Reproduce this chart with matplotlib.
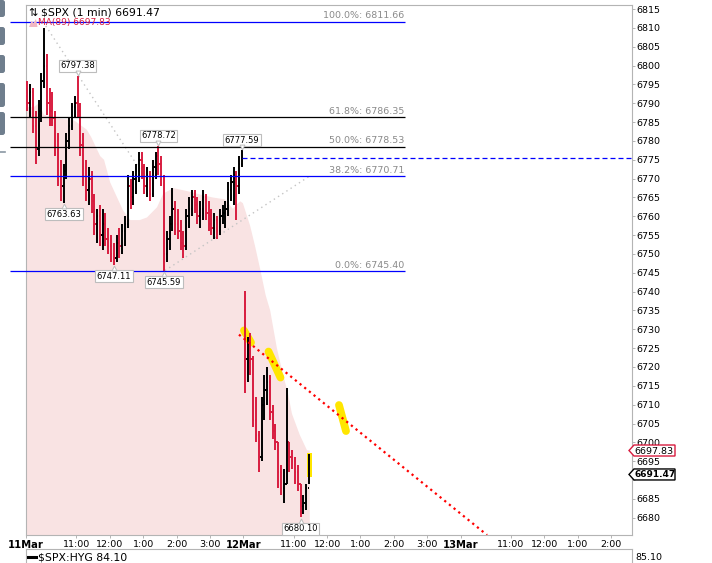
import matplotlib
matplotlib.use("Agg")
import matplotlib.pyplot as plt
from matplotlib.collections import LineCollection
from matplotlib.patches import Polygon, Rectangle, FancyBboxPatch
from matplotlib.lines import Line2D
from matplotlib.transforms import IdentityTransform, offset_copy

plt.rcParams['font.family'] = ['DejaVu Sans']

# ---------------- data (5-minute bars) ----------------
BAR_MIN = 5
DAY_MIN = 390

d1_open0 = 6792
d1_high = [6796, 6795, 6794, 6788, 6791, 6798, 6810, 6803, 6794, 6793,
           6788, 6782, 6775, 6774, 6782, 6786, 6790, 6792, 6797.38, 6790,
           6782, 6775, 6773, 6772, 6766, 6762, 6763, 6762, 6761, 6757,
           6755, 6753, 6755, 6757, 6758, 6760, 6771, 6770, 6772, 6774,
           6777, 6777, 6774, 6773, 6772, 6775, 6777, 6778.72, 6776, 6771,
           6756, 6760, 6767.5, 6764, 6762, 6759, 6756, 6762, 6765, 6767,
           6767, 6765, 6764, 6767, 6766, 6764, 6762, 6761, 6760, 6762,
           6763, 6764, 6769, 6771, 6773, 6772, 6776, 6777.59]
d1_low = [6788, 6786, 6782, 6774, 6776, 6785, 6794, 6787, 6784, 6784,
          6776, 6768, 6764, 6763.63, 6770, 6778, 6783, 6786, 6786, 6776,
          6768, 6764, 6763, 6761, 6755, 6753, 6752, 6751, 6752, 6750,
          6748, 6747.11, 6748, 6749, 6750, 6752, 6757, 6762, 6763, 6766,
          6769, 6770, 6766, 6765, 6764, 6765, 6770, 6771, 6768, 6745.59,
          6748, 6751, 6756, 6755, 6754, 6751, 6749, 6751, 6757, 6760,
          6761, 6758, 6757, 6759, 6759, 6756, 6755, 6754, 6754, 6755,
          6758, 6757, 6760, 6764, 6763, 6759, 6766, 6773]
d1_close = [6790, 6793, 6784, 6778, 6788, 6796, 6800, 6790, 6788, 6786,
            6780, 6770, 6768, 6772, 6780, 6784, 6789, 6790, 6788, 6779,
            6770, 6767, 6770, 6764, 6758, 6760, 6755, 6758, 6754, 6752,
            6750, 6749, 6753, 6752, 6756, 6758, 6768, 6765, 6770, 6772,
            6775, 6773, 6768, 6771, 6766, 6773, 6776, 6774, 6770, 6750,
            6754, 6758, 6762, 6758, 6756, 6753, 6752, 6760, 6762, 6765,
            6763, 6760, 6762, 6765, 6761, 6758, 6757, 6759, 6756, 6760,
            6761, 6762, 6767, 6769, 6771, 6768, 6774, 6775.5]

d2_open0 = 6735
d2_high = [6740.3, 6728, 6729, 6723, 6712, 6703, 6712, 6718, 6720, 6718,
           6710, 6705, 6700, 6694, 6693, 6714.5, 6700, 6698, 6696, 6694,
           6689, 6686, 6689, 6697]
d2_low = [6713, 6716, 6718, 6704, 6700, 6692, 6695, 6706, 6710, 6706,
          6701, 6698, 6688, 6686, 6684, 6689, 6692, 6693, 6689, 6687,
          6680.10, 6681, 6682, 6689]
d2_close = [6722, 6726, 6722, 6706, 6702, 6696, 6710, 6714, 6716, 6708,
            6703, 6700, 6692, 6688, 6689, 6700, 6696, 6695, 6692, 6689,
            6683, 6684, 6688, 6691.47]

# MA(89) boundary (minutes since 11Mar open, price)
ma_t = [0, 14, 23, 32, 56, 86, 109, 117, 133, 140, 151, 174, 187, 204, 217,
        235, 246, 264, 289, 312, 335, 357, 371, 384, 389, 402, 411, 420, 430,
        438, 450, 461, 470, 477, 491, 504, 509]
ma_v = [6789, 6789, 6790, 6787, 6786, 6785.5, 6783, 6781, 6776, 6775, 6769,
        6761.6, 6759, 6759, 6759.7, 6762.4, 6766, 6767.5, 6766.7, 6765.8,
        6765, 6764.5, 6762, 6764, 6763.5, 6757.5, 6752, 6746, 6739, 6735,
        6725, 6718, 6713, 6707.6, 6702, 6697.9, 6697.83]

fib_pct = ['100.0%', '61.8%', '50.0%', '38.2%', '0.0%']
fib_val = [6811.66, 6786.35, 6778.53, 6770.71, 6745.40]
fib_col = ['#0000ff', '#000000', '#000000', '#0000ff', '#0000ff']
fib_span = [-28.7, 679.8]

prev_close = 6775.44
prev_close_start = 387.4

gray_trend1_t = [30.5, 212.0]
gray_trend1_p = [6811.66, 6770.71]
gray_trend2_t = [249.3, 509.0]
gray_trend2_p = [6745.59, 6770.71]

red_trend_t = [382.0, 827.0]
red_trend_p = [6728.6, 6675.4]

hl_marks = [([391.0, 403.6], [6729.7, 6726.5]),
            ([435.0, 456.5], [6724.1, 6717.2]),
            ([561.4, 574.0], [6709.9, 6703.0])]
last_box_t = [504.6, 512.5]
last_box_p = [6690.8, 6697.2]

# labelled extremes: (day, bar index, 'h' or 'l')
labelled = [(1, 18, 'h'), (1, 13, 'l'), (1, 31, 'l'), (1, 47, 'h'),
            (1, 49, 'l'), (1, 77, 'h'), (2, 20, 'l')]

tick_pos = [0, 90, 150, 210, 270, 330, 390, 480, 540, 600, 660, 720, 780,
            870, 930, 990, 1050]
tick_lab = ['11Mar', '11:00', '12:00', '1:00', '2:00', '3:00', '12Mar',
            '11:00', '12:00', '1:00', '2:00', '3:00', '13Mar', '11:00',
            '12:00', '1:00', '2:00']
y_ticks = list(range(6680, 6816, 5))
y_hidden = [6690]   # covered by the last-price tag in the reference

ratio_name = '$SPX:HYG'
ratio_value = 84.10
ratio_axis_tick = 85.10

# ---------------- figure ----------------
W, H = 712, 563
fig = plt.figure(figsize=(W / 100, H / 100), dpi=100)
ax = fig.add_axes([26 / W, 1 - 535 / H, 606 / W, 530 / H])
ax.set_xlim(0, 1087)
ax.set_ylim(6675.4, 6816.1)

RED = '#d81c3f'

# MA(89) shaded area
ax.fill_between(ma_t, ma_v, 6600, color='#f9e3e3', lw=0, zorder=1)

# dotted gray trend lines
for tt, pp in [(gray_trend1_t, gray_trend1_p), (gray_trend2_t, gray_trend2_p)]:
    ax.plot(tt, pp, color='#c4c4c4', lw=1.0, dashes=(1, 2.6), zorder=2)

# bars
def make_bars(o0, highs, lows, closes, t0):
    up, dn = [], []
    o = o0
    tk = 2.2
    for i, (h, l, c) in enumerate(zip(highs, lows, closes)):
        t = t0 + BAR_MIN * i + BAR_MIN / 2
        segs = [[(t, l), (t, h)], [(t - tk, o), (t, o)], [(t, c), (t + tk, c)]]
        (up if c >= o else dn).extend(segs)
        o = c
    return up, dn

u1, r1 = make_bars(d1_open0, d1_high, d1_low, d1_close, 0)
u2, r2 = make_bars(d2_open0, d2_high, d2_low, d2_close, DAY_MIN)
ax.add_collection(LineCollection(u1 + u2, colors='#000000', linewidths=1.4, zorder=5))
ax.add_collection(LineCollection(r1 + r2, colors=RED, linewidths=1.4, zorder=5))

# fib levels
for pct, v, col in zip(fib_pct, fib_val, fib_col):
    ax.plot(fib_span, [v, v], color=col, lw=0.9, zorder=6, clip_on=False,
            solid_capstyle='butt')
    ax.text(fib_span[1] - 1, v, f'{pct}: {v:.2f}',
            transform=offset_copy(ax.transData, fig=fig, x=0, y=5.8, units='dots'),
            ha='right', va='center', fontsize=6.8, color='#8a8a8a', zorder=6)

# previous close dashed line
ax.plot([prev_close_start, 1087], [prev_close, prev_close], color='#0000ff',
        lw=0.9, dashes=(4, 2.4), zorder=6)

# yellow highlights
for tt, pp in hl_marks:
    ax.plot(tt, pp, color='#ffe600', lw=5.6, solid_capstyle='round', zorder=4)
ax.add_patch(Rectangle((last_box_t[0], last_box_p[0]), last_box_t[1] - last_box_t[0],
                       last_box_p[1] - last_box_p[0], fc='#ffe600', ec='none', zorder=4))

# red dotted trend
ax.plot(red_trend_t, red_trend_p, color='#ff0000', lw=1.6, dashes=(1.0, 1.7), zorder=7)

# labelled extremes
days = {1: (d1_high, d1_low, 0), 2: (d2_high, d2_low, DAY_MIN)}
for day, idx, kind in labelled:
    hi, lo, t0 = days[day]
    t = t0 + BAR_MIN * idx + BAR_MIN / 2
    p = hi[idx] if kind == 'h' else lo[idx]
    dy = 10.0 if kind == 'h' else -11.5
    ax.text(t, p, f'{p:.2f}',
            transform=offset_copy(ax.transData, fig=fig, x=0, y=dy, units='dots'),
            ha='center', va='center', fontsize=6, color='#000000', zorder=9,
            bbox=dict(boxstyle='square,pad=0.18', fc='white', ec='#bdbdbd', lw=0.8))
    ax.plot([t], [p], marker='v' if kind == 'h' else '^', ms=3.5,
            mfc='white', mec='#bdbdbd', mew=0.7,
            transform=offset_copy(ax.transData, fig=fig, x=0,
                                  y=3.0 if kind == 'h' else -3.5, units='dots'),
            zorder=10)

# axes styling
for s in ax.spines.values():
    s.set_color('#b4b4b4')
    s.set_linewidth(0.8)
ax.yaxis.tick_right()
ax.set_yticks(y_ticks)
ax.set_yticklabels(['' if v in y_hidden else str(v) for v in y_ticks])
ax.tick_params(axis='y', length=2, width=0.7, color='#b4b4b4', pad=1,
               labelsize=6.8, labelcolor='#000000')
ax.set_xticks(tick_pos)
ax.set_xticklabels(tick_lab)
ax.tick_params(axis='x', length=2, width=0.7, color='#b4b4b4', pad=1.5,
               labelsize=6.8, labelcolor='#000000')
for lab in ax.get_xticklabels():
    if 'Mar' in lab.get_text():
        lab.set_fontweight('bold')
        lab.set_fontsize(7.2)

# right-hand price tags
def right_tag(price, text, ec, bold):
    yd = ax.transData.transform((0, price))[1]
    x0, xb, x1, h = 629, 634, 675, 5.5
    poly = Polygon([(x0, yd), (xb, yd + h), (x1, yd + h), (x1, yd - h), (xb, yd - h)],
                   closed=True, fc='white', ec=ec, lw=1.0,
                   transform=IdentityTransform(), zorder=20)
    fig.add_artist(poly)
    fig.text(xb + 0.5, yd - 0.5, text, transform=IdentityTransform(), ha='left',
             va='center', fontsize=6.5 if bold else 6.8,
             fontweight='bold' if bold else 'normal', color='#000000', zorder=21)

right_tag(ma_v[-1], f'{ma_v[-1]:.2f}', RED, False)
right_tag(d2_close[-1], f'{d2_close[-1]:.2f}', '#000000', True)

# legend texts (top-left)
fig.text(28 / W, 1 - 12.5 / H, '\u21c5', fontsize=8, va='center', ha='left', color='#000000')
fig.text(41 / W, 1 - 12.5 / H, f'$SPX (1 min) {d2_close[-1]:.2f}', fontsize=7.8,
         va='center', ha='left', color='#000000')
fig.add_artist(Polygon([(29, H - 27), (31.5, H - 21), (33.5, H - 23), (36, H - 19), (37.5, H - 27)],
                       closed=True, fc='#f2b7c2', ec='none', transform=IdentityTransform()))
fig.text(38.5 / W, 1 - 23 / H, f'MA(89) {ma_v[-1]:.2f}', fontsize=6.5,
         va='center', ha='left', color=RED)

# left toolbar stubs
for y0, y1 in [(0, 17), (27, 45), (55, 73), (83, 107), (112, 135)]:
    fig.add_artist(FancyBboxPatch((-6, H - y1), 11, y1 - y0,
                                  boxstyle='round,pad=0,rounding_size=2.5',
                                  fc='#6f7e8d', ec='none', transform=IdentityTransform()))
fig.add_artist(Line2D([0, 5], [H - 151.5, H - 151.5], color='#8a97a3', lw=1.2,
                      transform=IdentityTransform()))

# lower ratio panel (mostly cut off)
ax2 = fig.add_axes([26 / W, -40 / H, 606 / W, (563 - 549 + 40) / H])
ax2.set_xticks([])
ax2.set_yticks([])
for s in ax2.spines.values():
    s.set_color('#b4b4b4')
    s.set_linewidth(0.8)
fig.add_artist(Line2D([28, 36], [H - 557, H - 557], color='#000000', lw=2.2,
                      transform=IdentityTransform()))
fig.text(38 / W, 1 - 557 / H, f'{ratio_name} {ratio_value:.2f}', fontsize=7.8,
         va='center', ha='left', color='#000000')
fig.text(635 / W, 1 - 557.5 / H, f'{ratio_axis_tick:.2f}', fontsize=6.8,
         va='center', ha='left', color='#000000')

fig.savefig('out.png', dpi=100)
